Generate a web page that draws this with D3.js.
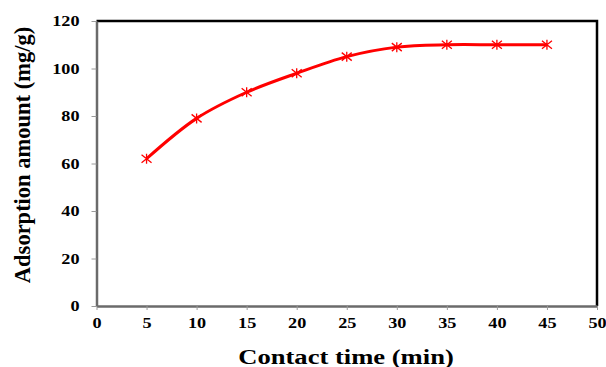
<!DOCTYPE html>
<html>
<head>
<meta charset="utf-8">
<script src="https://cdn.jsdelivr.net/npm/d3@7"></script>
<style>
  body { margin: 0; background: #fff; }
  text { font-family: "Liberation Serif", "Times New Roman", serif; font-weight: bold; }
</style>
</head>
<body>
<div id="my_dataviz"></div>
<script>
// data
var times = [5, 10, 15, 20, 25, 30, 35, 40, 45];
var amounts = [62, 79, 90, 98, 105, 109, 110, 110, 110];
var xTicks = [0, 5, 10, 15, 20, 25, 30, 35, 40, 45, 50];
var yTicks = [0, 20, 40, 60, 80, 100, 120];

var W = 606, H = 367;
var margin = {top: 21, right: 9, bottom: 61, left: 96.5};
var width = W - margin.left - margin.right,
    height = H - margin.top - margin.bottom;
var stretch = 1.3; // the text in the picture is drawn wider than normal

var data = times.map(function(t, i) { return {t: t, a: amounts[i]}; });

var svg = d3.select("#my_dataviz")
  .append("svg")
    .attr("width", W)
    .attr("height", H);

var g = svg.append("g")
    .attr("transform", "translate(" + margin.left + "," + margin.top + ")");

var x = d3.scaleLinear().domain([0, 50]).range([0, width]);
var y = d3.scaleLinear().domain([0, 120]).range([height, 0]);

// frame: top and right black
g.append("path")
  .attr("d", "M0,0H" + width + "V" + height)
  .attr("fill", "none")
  .attr("stroke", "#000")
  .attr("stroke-width", 2.5);

// X axis
var xAxis = g.append("g")
  .attr("transform", "translate(0," + height + ")")
  .call(d3.axisBottom(x).tickValues(xTicks).tickSize(4).tickSizeOuter(0));
xAxis.select(".domain").attr("stroke", "#6b6b6b").attr("stroke-width", 2.5);
xAxis.selectAll(".tick line").attr("stroke", "#9a9a9a");
xAxis.selectAll("text")
  .attr("y", 22).attr("dy", null)
  .attr("transform", "scale(" + stretch + ",1)")
  .attr("fill", "#000")
  .style("font-size", "14px")
  .style("font-family", "'Liberation Serif', serif")
  .style("font-weight", "bold");

// Y axis
var yAxis = g.append("g")
  .call(d3.axisLeft(y).tickValues(yTicks).tickSize(5).tickSizeOuter(0));
yAxis.select(".domain").attr("stroke", "#6b6b6b").attr("stroke-width", 2.5);
yAxis.selectAll(".tick line").attr("stroke", "#9a9a9a");
yAxis.selectAll("text")
  .attr("x", 0).attr("dy", "0.34em")
  .attr("transform", "translate(-17,0) scale(" + stretch + ",1)")
  .attr("fill", "#000")
  .style("font-size", "14px")
  .style("font-family", "'Liberation Serif', serif")
  .style("font-weight", "bold");

// smoothed line
g.append("path")
  .datum(data)
  .attr("fill", "none")
  .attr("stroke", "#ff0000")
  .attr("stroke-width", 3)
  .attr("d", d3.line()
    .curve(d3.curveCatmullRom)
    .x(function(d) { return x(d.t); })
    .y(function(d) { return y(d.a); }));

// asterisk markers
var s = 5;
g.selectAll(".mark")
  .data(data)
  .enter().append("path")
    .attr("class", "mark")
    .attr("transform", function(d) { return "translate(" + x(d.t) + "," + y(d.a) + ")"; })
    .attr("d", "M" + (-s) + "," + (-s * 0.8) + "L" + s + "," + (s * 0.8) +
               "M" + (-s) + "," + (s * 0.8) + "L" + s + "," + (-s * 0.8) +
               "M0," + (-s) + "V" + s)
    .attr("stroke", "#ff0000")
    .attr("stroke-width", 1.3)
    .attr("fill", "none");

// axis titles
svg.append("text")
  .attr("transform", "translate(346,364) scale(1.33,1)")
  .attr("text-anchor", "middle")
  .attr("font-size", 20)
  .text("Contact time (min)");

svg.append("text")
  .attr("transform", "translate(30,155) rotate(-90)")
  .attr("text-anchor", "middle")
  .attr("font-size", 22.5)
  .text("Adsorption amount (mg/g)");
</script>
</body>
</html>
